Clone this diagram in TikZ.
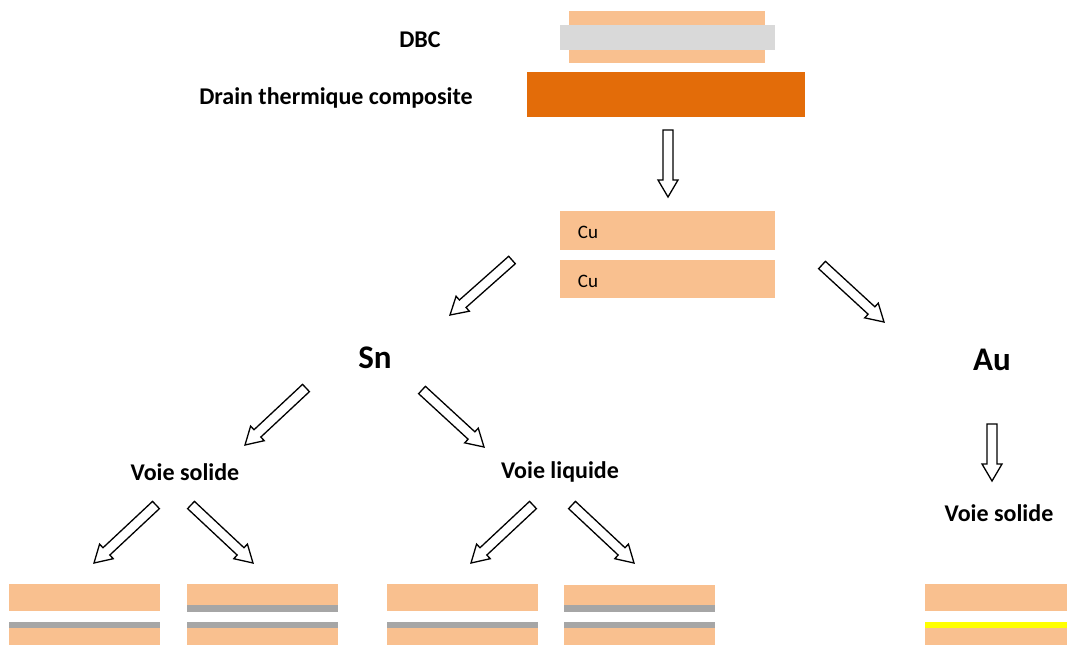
\documentclass[tikz,border=0pt]{standalone}
\usepackage{fontspec}
\setmainfont{Carlito}
\usetikzlibrary{calc}

\definecolor{cuivre}{HTML}{F9C08F}
\definecolor{ceram}{HTML}{D9D9D9}
\definecolor{drain}{HTML}{E36C09}
\definecolor{etain}{HTML}{A6A6A6}
\definecolor{orjaune}{HTML}{FFFF00}

\tikzset{
  titre/.style={font=\bfseries\fontsize{24}{26}\selectfont},
  grand/.style={font=\bfseries\fontsize{33}{35}\selectfont},
  fleche/.style={draw=black,fill=white,line width=1.3pt,line join=miter},
}

% fleche creuse de #1 (queue) a #2 (pointe)
\newcommand{\blocfleche}[2]{%
  \coordinate (n) at ($(#2)!17pt!(#1)$);
  \draw[fleche] ($(#1)!5pt!90:(#2)$) -- ($(n)!5pt!90:(#2)$) -- ($(n)!10pt!90:(#2)$)
    -- (#2) -- ($(n)!10pt!-90:(#2)$) -- ($(n)!5pt!-90:(#2)$) -- ($(#1)!5pt!-90:(#2)$) -- cycle;}

\begin{document}
\begin{tikzpicture}[x=1pt,y=-1pt]
\useasboundingbox (0,0) rectangle (1067,645);

% DBC + drain
\fill[cuivre] (569,11) rectangle (765,63);
\fill[ceram] (560,25) rectangle (775,50);
\fill[drain] (527,72) rectangle (805,117);
\node[titre] (dbc) at (420,40) {DBC};
\node[titre] (drainlbl) at (336,98) {Drain thermique composite};

% Cu / Cu
\fill[cuivre] (560,211) rectangle (775,250);
\fill[cuivre] (560,260) rectangle (775,298);
\node[font=\fontsize{19}{20}\selectfont] (cu1) at (588,232) {Cu};
\node[font=\fontsize{19}{20}\selectfont] (cu2) at (588,281) {Cu};

\node[grand] (sn) at (375,358) {Sn};
\node[grand] (au) at (992,360) {Au};
\node[titre] (vsol) at (185,472) {Voie solide};
\node[titre] (vliq) at (560,472) {Voie liquide};
\node[titre] (vsolau) at (999,513) {Voie solide};

% fleches
\coordinate (a1) at (668,130); \coordinate (b1) at (668,197);
\coordinate (a2) at (512,260); \coordinate (b2) at (450,315);
\coordinate (a3) at (822,265); \coordinate (b3) at (884,322);
\coordinate (a4) at (306,388); \coordinate (b4) at (245,445);
\coordinate (a5) at (422,390); \coordinate (b5) at (484,447);
\coordinate (a6) at (992,424); \coordinate (b6) at (992,481);
\coordinate (a7) at (156,505); \coordinate (b7) at (94,563);
\coordinate (a8) at (191,505); \coordinate (b8) at (253,563);
\coordinate (a9) at (533,505); \coordinate (b9) at (471,563);
\coordinate (a10) at (572,505); \coordinate (b10) at (634,563);
\blocfleche{a1}{b1}
\blocfleche{a2}{b2}
\blocfleche{a3}{b3}
\blocfleche{a4}{b4}
\blocfleche{a5}{b5}
\blocfleche{a6}{b6}
\blocfleche{a7}{b7}
\blocfleche{a8}{b8}
\blocfleche{a9}{b9}
\blocfleche{a10}{b10}

% empilements du bas
\fill[cuivre] (9,584) rectangle (160,611);
\fill[etain] (9,622) rectangle (160,628);
\fill[cuivre] (9,628) rectangle (160,645);

\fill[cuivre] (187,584) rectangle (338,605);
\fill[etain] (187,605) rectangle (338,612);
\fill[etain] (187,622) rectangle (338,628);
\fill[cuivre] (187,628) rectangle (338,645);

\fill[cuivre] (387,584) rectangle (538,611);
\fill[etain] (387,622) rectangle (538,628);
\fill[cuivre] (387,628) rectangle (538,645);

\fill[cuivre] (564,585) rectangle (715,605);
\fill[etain] (564,605) rectangle (715,612);
\fill[etain] (564,622) rectangle (715,628);
\fill[cuivre] (564,628) rectangle (715,645);

\fill[cuivre] (925,584) rectangle (1067,611);
\fill[orjaune] (925,622) rectangle (1067,628);
\fill[cuivre] (925,628) rectangle (1067,645);
\end{tikzpicture}
\end{document}
